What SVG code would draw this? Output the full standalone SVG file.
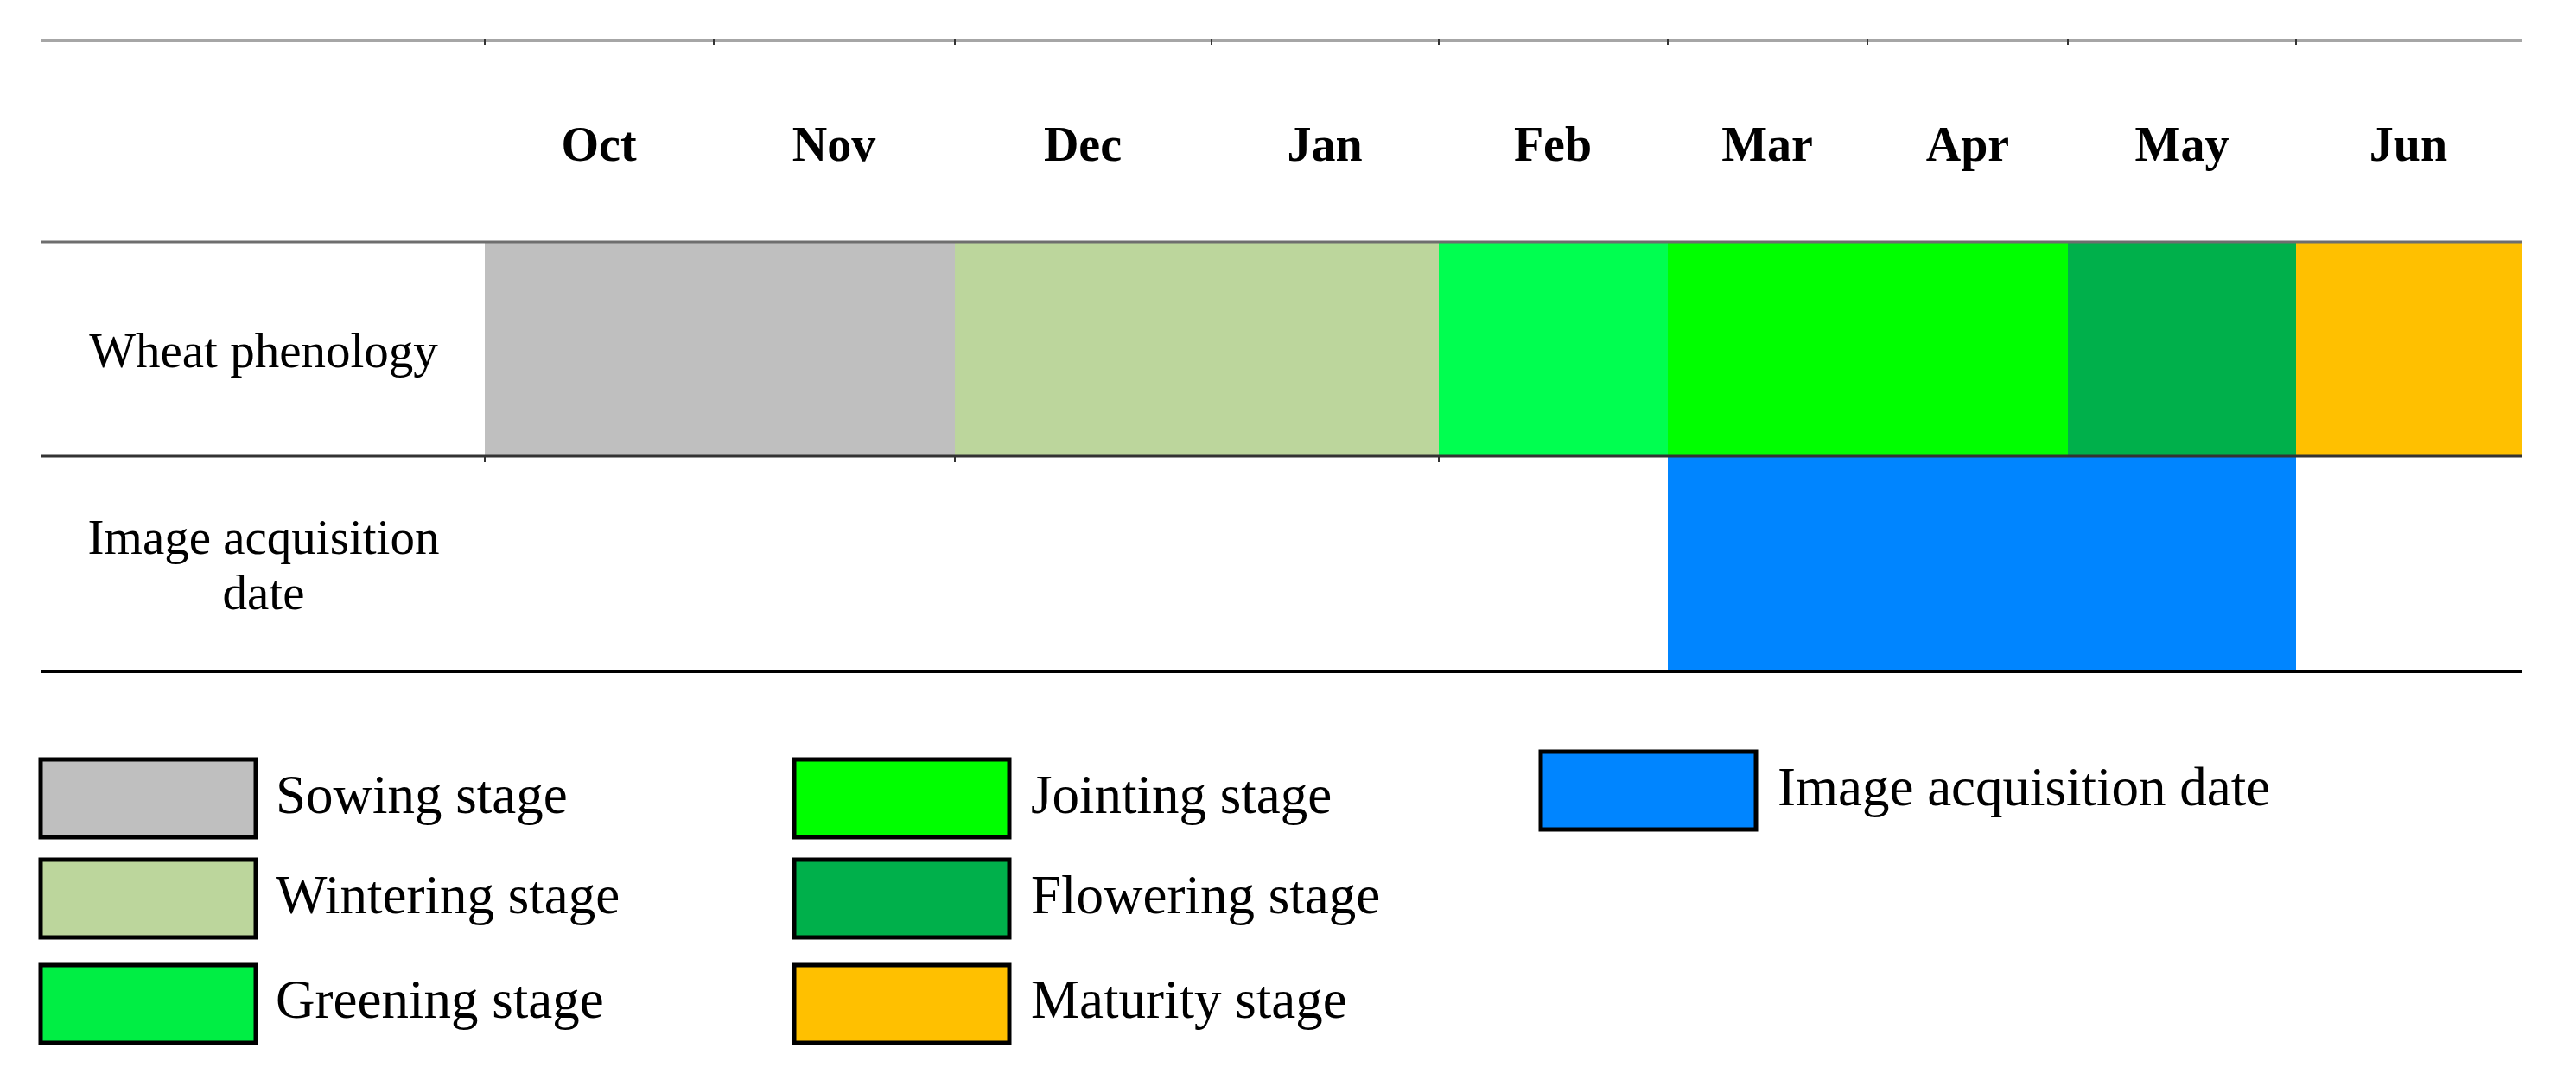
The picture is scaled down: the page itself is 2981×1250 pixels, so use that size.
<svg xmlns="http://www.w3.org/2000/svg" width="2981" height="1250" viewBox="0 0 2981 1250">
<style>
  .month{font-family:"Liberation Serif","Times New Roman",serif;font-weight:bold;font-size:56px;fill:#000;text-anchor:middle}
  .row{font-family:"Liberation Serif","Times New Roman",serif;font-size:57px;fill:#000;text-anchor:middle}
  .leg{font-family:"Liberation Serif","Times New Roman",serif;font-size:63px;fill:#000}
  .box{stroke:#000;stroke-width:5}
  .tick{stroke:#333;stroke-width:2}
</style>
<rect width="2981" height="1250" fill="#fff"/>

<g id="months">
  <text class="month" x="693" y="186">Oct</text>
  <text class="month" x="965" y="186">Nov</text>
  <text class="month" x="1253" y="186">Dec</text>
  <text class="month" x="1533" y="186">Jan</text>
  <text class="month" x="1797" y="186">Feb</text>
  <text class="month" x="2045" y="186">Mar</text>
  <text class="month" x="2277" y="186">Apr</text>
  <text class="month" x="2525" y="186">May</text>
  <text class="month" x="2787" y="186">Jun</text>
</g>

<g id="row-labels">
  <text class="row" x="305" y="425">Wheat phenology</text>
  <text class="row" x="305" y="641">Image acquisition</text>
  <text class="row" x="305" y="705">date</text>
</g>

<g id="phenology">
  <rect id="sowing" x="561" y="280" width="544" height="248" fill="#BFBFBF"/>
  <rect id="wintering" x="1105" y="280" width="560" height="248" fill="#BCD69C"/>
  <rect id="greening" x="1665" y="280" width="265" height="248" fill="#00FF50"/>
  <rect id="jointing" x="1930" y="280" width="463" height="248" fill="#00FF00"/>
  <rect id="flowering" x="2393" y="280" width="264" height="248" fill="#00B04B"/>
  <rect id="maturity" x="2657" y="280" width="261" height="248" fill="#FFC000"/>
</g>

<g id="acquisition">
  <rect x="1930" y="528" width="727" height="248" fill="#0085FF"/>
</g>

<g id="connectors">
  <line x1="48" y1="47" x2="2918" y2="47" stroke="#A6A6A6" stroke-width="4"/>
  <line x1="48" y1="280" x2="2918" y2="280" stroke="#6E6E6E" stroke-width="3"/>
  <line x1="48" y1="528" x2="2918" y2="528" stroke="#333" stroke-width="3"/>
  <line x1="48" y1="777" x2="2918" y2="777" stroke="#000" stroke-width="4"/>
  <g class="tick">
    <line x1="561" y1="45" x2="561" y2="52"/>
    <line x1="826" y1="45" x2="826" y2="52"/>
    <line x1="1105" y1="45" x2="1105" y2="52"/>
    <line x1="1402" y1="45" x2="1402" y2="52"/>
    <line x1="1665" y1="45" x2="1665" y2="52"/>
    <line x1="1930" y1="45" x2="1930" y2="52"/>
    <line x1="2161" y1="45" x2="2161" y2="52"/>
    <line x1="2393" y1="45" x2="2393" y2="52"/>
    <line x1="2657" y1="45" x2="2657" y2="52"/>
    <line x1="561" y1="528" x2="561" y2="535"/>
    <line x1="1105" y1="528" x2="1105" y2="535"/>
    <line x1="1665" y1="528" x2="1665" y2="535"/>
  </g>
</g>

<g id="legend">
  <g id="leg-sowing">
    <rect class="box" x="47" y="879" width="249" height="90" fill="#BFBFBF"/>
    <text class="leg" x="319" y="941">Sowing stage</text>
  </g>
  <g id="leg-wintering">
    <rect class="box" x="47" y="995" width="249" height="90" fill="#BCD69C"/>
    <text class="leg" x="319" y="1057">Wintering stage</text>
  </g>
  <g id="leg-greening">
    <rect class="box" x="47" y="1117" width="249" height="90" fill="#00EE44"/>
    <text class="leg" x="319" y="1178">Greening stage</text>
  </g>
  <g id="leg-jointing">
    <rect class="box" x="919" y="879" width="249" height="90" fill="#00FF00"/>
    <text class="leg" x="1193" y="941">Jointing stage</text>
  </g>
  <g id="leg-flowering">
    <rect class="box" x="919" y="995" width="249" height="90" fill="#00B04B"/>
    <text class="leg" x="1193" y="1057">Flowering stage</text>
  </g>
  <g id="leg-maturity">
    <rect class="box" x="919" y="1117" width="249" height="90" fill="#FFC000"/>
    <text class="leg" x="1193" y="1178">Maturity stage</text>
  </g>
  <g id="leg-image">
    <rect class="box" x="1783" y="870" width="249" height="90" fill="#0085FF"/>
    <text class="leg" x="2057" y="932">Image acquisition date</text>
  </g>
</g>
</svg>
